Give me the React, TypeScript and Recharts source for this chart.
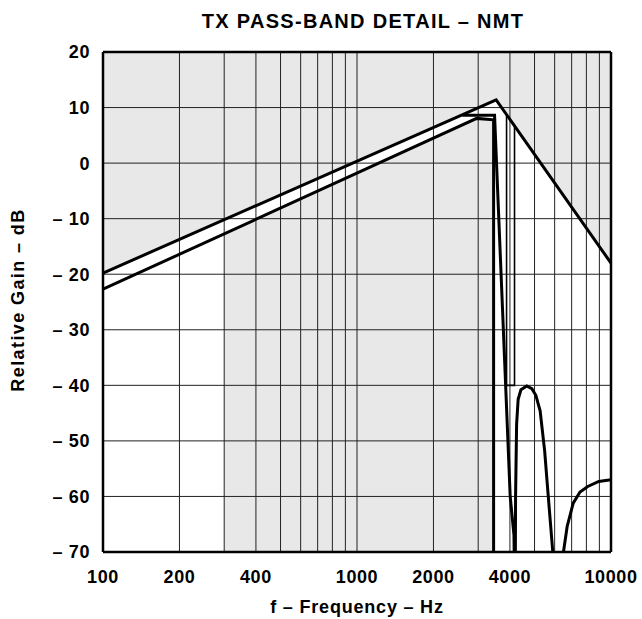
import React from 'react';
import { ComposedChart, Line, Area, XAxis, YAxis, ReferenceLine } from 'recharts';

const FONT = '"Liberation Sans", Arial, Helvetica, sans-serif';

// Axis ticks
const xTicks = [100, 200, 400, 1000, 2000, 4000, 10000];
const yTicks = [-70, -60, -50, -40, -30, -20, -10, 0, 10, 20];
// Vertical grid lines (log decades)
const gridFreqs = [
  100, 200, 300, 400, 500, 600, 700, 800, 900,
  1000, 2000, 3000, 4000, 5000, 6000, 7000, 8000, 9000, 10000,
];
const gridDb = [-60, -50, -40, -30, -20, -10, 0, 10];

// Upper limit template (Hz / dB)
const upperF = [100, 3530, 10000];
const upperDb = [-19.8, 11.4, -18];

// Lower limit template
const lowerF = [100, 2960, 3450, 3450];
const lowerDb = [-22.7, 8.05, 7.8, -70];

// Measured response
const respF = [
  2600, 3480, 4010, 4150, 4190, 4210, 4250, 4310, 4420, 4660, 4880, 5060,
  5260, 5480, 5640, 5900, 6200, 6500, 6720, 7100, 7550, 8100, 8950, 10000,
];
const respDb = [
  8.6, 8.6, -60, -67, -85, -60, -47, -42.5, -40.8, -40.1, -40.6, -41.8,
  -44.6, -51.8, -59, -70, -95, -70, -65.4, -61.2, -59.2, -58.2, -57.3, -57,
];

// 4 kHz notch limit
const notchF = [3880, 3880, 4170, 4170];
const notchDb = [8.7, -40, -40, 6.8];

// Allowed (white) region of the template
const allowedF = [100, 300, 300, 2960, 3450, 3450, 3530, 10000];
const allowedLow = [-70, -70, -12.7, 8.05, 7.8, -70, -70, -70];
const allowedHigh = [-19.8, -10.2, -10.2, 9.9, 11.2, 11.2, 11.4, -18];

// Shaded (forbidden) background
const shadeF = [100, 10000];
const shadeLow = [-70, -70];
const shadeHigh = [20, 20];

const zipLine = (f: number[], v: number[]) => f.map((x, i) => ({ f: x, v: v[i] }));
const zipRange = (f: number[], lo: number[], hi: number[]) =>
  f.map((x, i) => ({ f: x, r: [lo[i], hi[i]] }));

const upperData = zipLine(upperF, upperDb);
const lowerData = zipLine(lowerF, lowerDb);
const respData = zipLine(respF, respDb);
const notchData = zipLine(notchF, notchDb);
const allowedData = zipRange(allowedF, allowedLow, allowedHigh);
const shadeData = zipRange(shadeF, shadeLow, shadeHigh);

const tickStyle = {
  fill: '#000', fontSize: 18, fontWeight: 'bold' as const, fontFamily: FONT, letterSpacing: 0.6,
};

const fmtY = (v: number) => (v < 0 ? `\u2013 ${-v}` : `${v}`);

const W = 642;
const H = 619;

export default function App() {
  return (
    <div style={{ position: 'relative', width: W, height: H, fontFamily: FONT, overflow: 'hidden' }}>
      <style>{'html,body{margin:0;padding:0;}'}</style>
      <ComposedChart width={W} height={H} margin={{ top: 52, right: 31, left: 0, bottom: 37 }}>
        <XAxis
          dataKey="f"
          type="number"
          scale="log"
          domain={[100, 10000]}
          ticks={xTicks}
          interval={0}
          allowDataOverflow
          tickLine={false}
          axisLine={{ stroke: '#000', strokeWidth: 2.5 }}
          tick={tickStyle}
          tickMargin={12}
          height={30}
        />
        <YAxis
          type="number"
          domain={[-70, 20]}
          ticks={yTicks}
          interval={0}
          allowDataOverflow
          tickLine={false}
          axisLine={{ stroke: '#000', strokeWidth: 2.5 }}
          tick={tickStyle}
          tickFormatter={fmtY}
          tickMargin={7}
          width={103}
        />
        <Area data={shadeData} dataKey="r" type="linear" fill="#e8e8e8" fillOpacity={1} stroke="none" isAnimationActive={false} />
        <Area data={allowedData} dataKey="r" type="linear" fill="#ffffff" fillOpacity={1} stroke="none" isAnimationActive={false} />
        {gridFreqs.map((g) => (
          <ReferenceLine key={'gx' + g} x={g} stroke="#222" strokeWidth={1} />
        ))}
        {gridDb.map((g) => (
          <ReferenceLine key={'gy' + g} y={g} stroke="#222" strokeWidth={1} />
        ))}
        <ReferenceLine y={20} stroke="#000" strokeWidth={2.5} />
        <ReferenceLine x={10000} stroke="#000" strokeWidth={2.5} />
        <Line data={notchData} dataKey="v" type="linear" stroke="#000" strokeWidth={1.6} dot={false} isAnimationActive={false} />
        <Line data={lowerData} dataKey="v" type="linear" stroke="#000" strokeWidth={3} dot={false} isAnimationActive={false} />
        <Line data={respData} dataKey="v" type="linear" stroke="#000" strokeWidth={3} dot={false} isAnimationActive={false} />
        <Line data={upperData} dataKey="v" type="linear" stroke="#000" strokeWidth={3} dot={false} isAnimationActive={false} />
      </ComposedChart>
      <div
        style={{
          position: 'absolute', left: 163, top: 10, width: 400, textAlign: 'center',
          fontSize: 20, fontWeight: 'bold', lineHeight: '22px', whiteSpace: 'nowrap', letterSpacing: 1.3,
        }}
      >
        TX PASS-BAND DETAIL – NMT
      </div>
      <div
        style={{
          position: 'absolute', left: 157, top: 597, width: 400, textAlign: 'center',
          fontSize: 18, fontWeight: 'bold', lineHeight: '20px', whiteSpace: 'nowrap', letterSpacing: 0.8,
        }}
      >
        f – Frequency – Hz
      </div>
      <div
        style={{
          position: 'absolute', left: 18, top: 300, transform: 'translate(-50%, -50%) rotate(-90deg)',
          fontSize: 18, fontWeight: 'bold', lineHeight: '20px', whiteSpace: 'nowrap', letterSpacing: 1.4,
        }}
      >
        Relative Gain – dB
      </div>
    </div>
  );
}
